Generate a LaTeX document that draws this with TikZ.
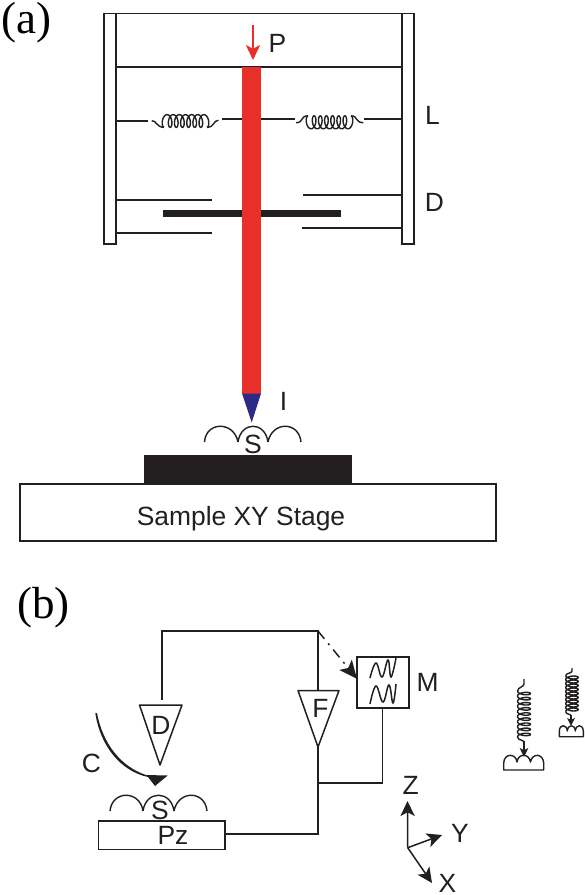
\documentclass[tikz,border=0pt]{standalone}
\usepackage{fontspec}
\setmainfont{Liberation Sans}
\newfontfamily\serifpanel{Liberation Serif}
\usetikzlibrary{arrows.meta}
\definecolor{ink}{HTML}{231F20}
\definecolor{rodred}{HTML}{E8302A}
\definecolor{tipblue}{HTML}{2B2A86}
\tikzset{
  ln/.style={draw=ink,line width=1.5pt},
  coilline/.style={draw=ink,line width=1.4pt,line join=round},
  box/.style={ln,fill=white,inner sep=0pt,outer sep=0pt,minimum width=#1},
  lab/.style={inner sep=0pt,anchor=base,text=ink,font=\fontsize{26.4}{26.4}\selectfont},
  panel/.style={inner sep=0pt,anchor=base west,text=black,font=\serifpanel\fontsize{45}{45}\selectfont},
  sharp/.style={-{Stealth[length=#1,width=#1*0.95,inset=#1*0.25]}},
}
% x0 x1 y amplitude turns
\newcommand{\hcoil}[5]{\draw[coilline] plot[smooth,domain=180:180+#5*360,samples=#5*18+1]
  ({#1+(\x-180)/(#5*360)*(#2-#1)+3.2*sin(\x)},{#3-#4*cos(\x)});}
% x y0 y1 amplitude turns
\newcommand{\vcoil}[5]{\draw[coilline] plot[smooth,domain=0:#5*360,samples=#5*18+1]
  ({#1-#4*cos(\x)},{#2+\x/(#5*360)*(#3-#2)+2.4*sin(\x)});}
\begin{document}
\begin{tikzpicture}[x=1pt,y=-1pt]
\useasboundingbox (0,0) rectangle (585,895);
\fill[white] (0,0) rectangle (585,895);
% ---------- panel a
\node[panel] (pa) at (1,33) {(a)};
\node[panel] (pb) at (17,618) {(b)};
\node[box=12pt,minimum height=230.5pt] (wl) at (110,128.75) {};
\node[box=12pt,minimum height=230.5pt] (wr) at (408,128.75) {};
\draw[ln] (wl.north west) -- (wr.north east);
\coordinate (tl) at (116,67); \coordinate (tr) at (402,67);
\draw[ln] (tl) -- (tr);
% plates
\coordinate (pl1) at (116,200); \coordinate (pl1e) at (212,200);
\coordinate (pl2) at (116,233); \coordinate (pl2e) at (212,233);
\coordinate (pr1) at (402,195); \coordinate (pr1e) at (303,195);
\coordinate (pr2) at (402,228); \coordinate (pr2e) at (302,228);
\draw[ln] (pl1) -- (pl1e) (pl2) -- (pl2e) (pr1) -- (pr1e) (pr2) -- (pr2e);
\node[fill=ink,inner sep=0pt,minimum width=178pt,minimum height=7pt] (bar) at (252,213.5) {};
% spring lines
\coordinate (sl1) at (116,121); \coordinate (sl1e) at (148,121);
\coordinate (sl2) at (222,119); \coordinate (sl2e) at (242,119);
\coordinate (sr1) at (261,119); \coordinate (sr1e) at (295,119);
\coordinate (sr2) at (364,119); \coordinate (sr2e) at (402,119);
\draw[ln] (sl1) -- (sl1e) (sl2) -- (sl2e) (sr1) -- (sr1e) (sr2) -- (sr2e);
\draw[coilline] (151.7,120.7) .. controls (157,120.7) and (156,127) .. (164,127.4);
\hcoil{164}{207}{121}{6.4}{7}
\draw[coilline] (207,127.4) .. controls (215,127) and (213,120.3) .. (218.5,120.3);
\draw[coilline] (296,122.7) .. controls (304,122.7) and (300,115.8) .. (308,115.8);
\hcoil{308}{351}{122.3}{-6.5}{7}
\draw[coilline] (351,115.8) .. controls (358,115.8) and (355,122.7) .. (363.3,122.7);
% rod
\node[fill=rodred,inner sep=0pt,minimum width=19pt,minimum height=327pt] (rod) at (251.5,230.5) {};
\coordinate (tipa) at (242,393.5); \coordinate (tipb) at (261,393.5); \coordinate (tipc) at (251.7,422.5);
\fill[tipblue] (tipa) -- (tipb) -- (tipc) -- cycle;
\coordinate (pa0) at (253,25); \coordinate (pa1) at (253,60);
\draw[rodred,line width=1.6pt,sharp=15pt] (pa0) -- (pa1);
\node[lab] (lP) at (277.5,52.5) {P};
\node[lab] (lL) at (432.5,124.5) {L};
\node[lab] (lD) at (434.3,211.7) {D};
\node[lab] (lI) at (283.5,410) {I};
\node[lab] (lS) at (253,453) {S};
\draw[coilline] (204.5,442) .. controls (206,421) and (234,421) .. (238,442)
  (238,442) .. controls (241,421) and (265,421) .. (268,442)
  (268,442) .. controls (272,421) and (299,421) .. (301,442);
\node[fill=ink,inner sep=0pt,minimum width=208pt,minimum height=29pt] (block) at (248,469.5) {};
\node[box=476pt,minimum height=57pt] (stage) at (258,512.5) {};
\node[lab] (lstage) at (241,525) {Sample XY Stage};
% ---------- panel b
\node[box=126.5pt,minimum height=28.5pt] (pz) at (161.75,835.25) {};
\node[lab] (lPz) at (173,844) {Pz};
\node[lab] (lSb) at (160,819) {S};
\draw[coilline] (110,811) .. controls (112,790) and (140,790) .. (143,811)
  (143,811) .. controls (146,790) and (171,790) .. (174,811)
  (174,811) .. controls (178,790) and (205,790) .. (207,811);
\coordinate (d1) at (139.5,705); \coordinate (d2) at (182,705); \coordinate (d3) at (160,765);
\coordinate (f1) at (298,690.5); \coordinate (f2) at (339,690.5); \coordinate (f3) at (318,747);
\draw[ln,line join=round] (d1) -- (d2) -- (d3) -- cycle;
\draw[ln,line join=round] (f1) -- (f2) -- (f3) -- cycle;
\node[lab] (lDb) at (161,734.3) {D};
\node[lab] (lF) at (320.5,717.7) {F};
\coordinate (dtop) at (162,700);
\coordinate (c1) at (162,631); \coordinate (c2) at (318,631);
\coordinate (ftop) at (318,690.5);
\coordinate (j1) at (318,783); \coordinate (j2) at (318,834);
\draw[ln] (dtop) -- (c1) -- (c2) -- (ftop);
\draw[ln] (f3) -- (j2) -- (j2 -| pz.east);
\node[box=52pt,minimum height=51pt] (mbox) at (383,682.5) {};
\coordinate (j3) at (382.7,783);
\draw[ln] (mbox.south -| j3) -- (j3) -- (j1);
\draw[ln,dash pattern=on 10pt off 6pt on 2pt off 6pt,-{Stealth[length=18pt,width=16pt,inset=4pt]}] (c2) -- (mbox.172);
\draw[ink,line width=1.5pt] plot[smooth,tension=0.7] coordinates {(370,678) (376,663) (382,677) (388,660) (391,677) (396,658)};
\draw[ink,line width=1.5pt] plot[smooth,tension=0.7] coordinates {(370,704) (376,686) (383,702) (389,685) (393,703) (396,684)};
\node[lab] (lM) at (427.5,691) {M};
\node[lab] (lC) at (91.3,772.7) {C};
\coordinate (t1) at (146,775); \coordinate (t2) at (167.7,775.5); \coordinate (t3) at (155,786);
\fill[ink] (95.3,713) .. controls (100,745) and (120,771) .. (148,777) -- (t3) -- (t2) -- (t1) .. controls (122,767) and (103,745) .. (97,713) -- cycle;
% axes
\coordinate (o) at (407.7,847.7); \coordinate (az) at (407.5,801); \coordinate (ay) at (442,835); \coordinate (ax) at (432,883);
\draw[ink,line width=1.5pt,sharp=15pt] (o) -- (az);
\draw[ink,line width=1.5pt,sharp=15pt] (o) -- (ay);
\draw[ink,line width=1.5pt,sharp=15pt] (o) -- (ax);
\node[lab] (lZ) at (410.8,794) {Z};
\node[lab] (lY) at (460,842.3) {Y};
\node[lab] (lX) at (447.5,892) {X};
% small springs
\coordinate (a0) at (524,679); \coordinate (a3) at (524,757);
\draw[coilline] (a0) -- (524,684) .. controls (524,687) and (518,687) .. (517.5,691);
\vcoil{524}{691}{737}{6.5}{9}
\draw[coilline] (517.5,737) .. controls (518,741) and (524,739) .. (524,743);
\draw[coilline,sharp=9pt] (524,741) -- (a3);
\draw[coilline] (503.7,770) -- (503.7,763) .. controls (504,753) and (516,753) .. (517,762) .. controls (518,753) and (529,753) .. (530.5,762) .. controls (532,753) and (543,753) .. (543.7,763) -- (543.7,770) -- cycle;
\coordinate (b0) at (572,668); \coordinate (b3) at (571,726);
\draw[coilline] (b0) -- (572,671) .. controls (572,673.5) and (566,673) .. (565.7,675.5);
\vcoil{572}{675.5}{711.5}{6.3}{9}
\draw[coilline] (565.7,711.5) .. controls (566,715) and (571,713.5) .. (571,716);
\draw[coilline,sharp=8pt] (571,715) -- (b3);
\draw[coilline] (559.3,736.7) -- (559.3,731) .. controls (559.5,724) and (567,724) .. (567.3,731) .. controls (567.8,724) and (575,724) .. (575.3,731) .. controls (575.8,724) and (583,724) .. (583.3,731) -- (583.3,736.7) -- cycle;
\end{tikzpicture}
\end{document}
